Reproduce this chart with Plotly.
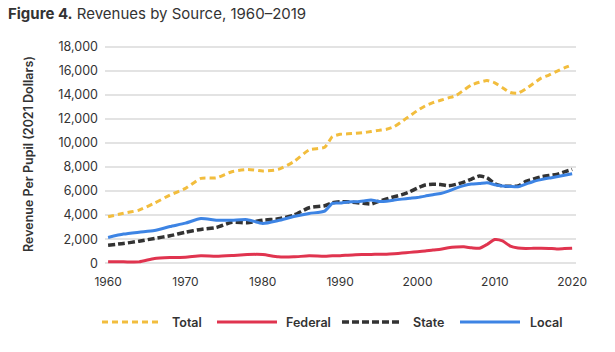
import plotly.graph_objects as go

years = [1960, 1962, 1964, 1966, 1968, 1970, 1972, 1974, 1976, 1978, 1980, 1982, 1984, 1986, 1988,
         1989, 1990, 1991, 1992, 1993, 1994, 1995, 1996, 1997, 1998, 1999, 2000, 2001, 2002, 2003,
         2004, 2005, 2006, 2007, 2008, 2009, 2010, 2011, 2012, 2013, 2014, 2015, 2016, 2017, 2018,
         2019, 2020]

total = [3860, 4150, 4420, 5000, 5670, 6220, 7050, 7100, 7610, 7800, 7670, 7800, 8440, 9420, 9640,
         10530, 10720, 10760, 10800, 10860, 10950, 11050, 11140, 11360, 11800, 12250, 12700, 13080, 13350, 13550,
         13750, 13950, 14400, 14830, 15050, 15190, 15000, 14600, 14200, 14150, 14500, 14950, 15400, 15650, 15950,
         16250, 16500]

federal = [110, 110, 110, 390, 470, 500, 610, 580, 640, 720, 720, 530, 530, 610, 580,
           620, 620, 670, 710, 720, 730, 740, 750, 790, 840, 900, 950, 1010, 1100, 1160,
           1280, 1340, 1360, 1280, 1240, 1560, 1970, 1850, 1420, 1260, 1220, 1240, 1250, 1230, 1190,
           1220, 1250]

state = [1500, 1640, 1830, 2060, 2280, 2580, 2810, 2970, 3400, 3360, 3580, 3690, 4000, 4610, 4780,
         5030, 5110, 5110, 5050, 4980, 4920, 5150, 5350, 5530, 5700, 5940, 6250, 6500, 6560, 6540,
         6440, 6560, 6750, 7000, 7250, 7110, 6600, 6420, 6400, 6420, 6800, 7000, 7190, 7300, 7390,
         7600, 7800]

local = [2140, 2420, 2580, 2720, 3050, 3330, 3720, 3580, 3580, 3620, 3310, 3550, 3880, 4140, 4330,
         4970, 5000, 5100, 5110, 5180, 5250, 5130, 5150, 5250, 5330, 5400, 5470, 5580, 5700, 5800,
         6000, 6250, 6450, 6580, 6620, 6690, 6530, 6420, 6380, 6360, 6580, 6800, 6950, 7080, 7190,
         7320, 7440]

series_names = ["Total", "Federal", "State", "Local"]
series_values = [total, federal, state, local]
colors = ["#F2BD3D", "#E0344F", "#333333", "#3D84E4"]
dashes = ["6px,4px", "solid", "7px,3px", "solid"]
widths = [3, 3, 3.5, 3]

FONT = "Inter, 'Open Sans', sans-serif"

fig = go.Figure()
for name, vals, c, d, w in zip(series_names, series_values, colors, dashes, widths):
    fig.add_trace(go.Scatter(x=years, y=vals, name=name, mode="lines",
                             line=dict(color=c, dash=d, width=w, shape="spline", smoothing=0.6),
                             showlegend=False, hoverinfo="skip"))

# plot area geometry (pixels)
L, R, T, B = 105, 39, 45, 87
W = 615 - L - R
H = 352 - T - B

def px_x(p):
    return (p - L) / W

def px_y(p):
    return (352 - B - p) / H

# manual legend (wide symbols like reference)
leg_line_x = [102, 217, 342, 460]
leg_text_x = [170, 284, 411, 528]
leg_y = 322
for name, c, d, w, lx, tx in zip(series_names, colors, dashes, widths, leg_line_x, leg_text_x):
    fig.add_shape(type="line", xref="paper", yref="paper",
                  x0=px_x(lx), x1=px_x(lx + 60), y0=px_y(leg_y), y1=px_y(leg_y),
                  line=dict(color=c, dash=d, width=w))
    fig.add_annotation(text=name, xref="paper", yref="paper", x=px_x(tx), y=px_y(leg_y),
                       xanchor="left", yanchor="middle", showarrow=False,
                       font=dict(family=FONT, size=12.5, color="#333333", weight=600))

fig.add_annotation(text="Revenue Per Pupil (2021 Dollars)", xref="paper", yref="paper",
                   x=px_x(28), y=px_y(154), textangle=-90, showarrow=False,
                   xanchor="center", yanchor="middle",
                   font=dict(family=FONT, size=12.5, color="#333333", weight=600))

fig.update_layout(
    width=615, height=352,
    margin=dict(l=L, r=R, t=T, b=B),
    paper_bgcolor="white", plot_bgcolor="white",
    title=dict(text="<b>Figure 4.</b> Revenues by Source, 1960\u20132019",
               x=8 / 615, xanchor="left", xref="container",
               y=1 - 14 / 352, yanchor="middle", yref="container",
               font=dict(family=FONT, size=15, color="#333333")),
    font=dict(family=FONT, color="#333333"),
    xaxis=dict(range=[1959.6, 2020.5], tickvals=[1960, 1970, 1980, 1990, 2000, 2010, 2020],
               showgrid=False, zeroline=False, showline=False, ticks="",
               tickfont=dict(family=FONT, size=12, color="#333333"), ticklabelstandoff=8),
    yaxis=dict(range=[-150, 18150], tickvals=list(range(0, 18001, 2000)),
               tickformat=",d", showgrid=True, gridcolor="#E3E3E3", gridwidth=1.5,
               zeroline=False, showline=False, ticks="",
               tickfont=dict(family=FONT, size=12.5, color="#333333"), ticklabelstandoff=6),
)

fig.write_html("out.html")
